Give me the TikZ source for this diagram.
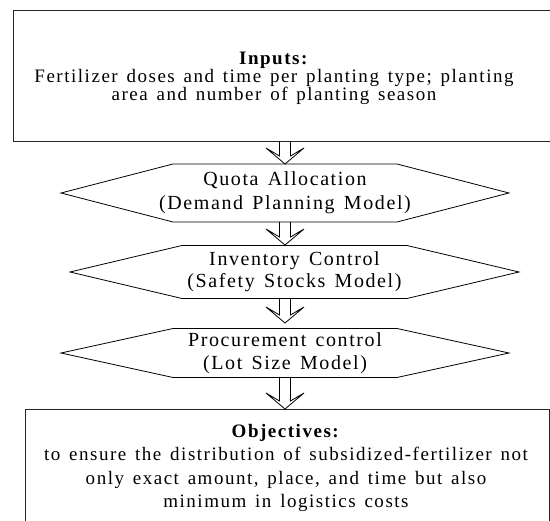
\documentclass[tikz,border=0pt]{standalone}
\usepackage{fontspec}
\setmainfont{Liberation Serif}[LetterSpace=8,WordSpace=1.4]
\usetikzlibrary{calc}
\newcommand\drawhex[4]{%
  \draw[hexline] ($(#1)+(-#2-#4,0)$) -- ($(#1)+(-#2,-#3)$) -- ($(#1)+(#2,-#3)$)
    -- ($(#1)+(#2+#4,0)$) -- ($(#1)+(#2,#3)$) -- ($(#1)+(-#2,#3)$) -- cycle;}
\newcommand\hollowarrow[2]{%
  \draw[arrowline] let \p1=(#1), \p2=(#2) in
    (\x2-5.5pt,\y1) -- (\x2-5.5pt,\y2+8pt) -- (\x2-19pt,\y2+16pt) -- (\x2,\y2)
    -- (\x2+19pt,\y2+16pt) -- (\x2+5.5pt,\y2+8pt) -- (\x2+5.5pt,\y1);}
\begin{document}
\begin{tikzpicture}[x=1pt,y=-1pt,
  boxline/.style={draw=black!85,line width=0.8pt},
  hexline/.style={draw=black,line width=0.8pt},
  arrowline/.style={draw=black,line width=0.8pt,line join=miter},
  txt/.style={align=center,inner sep=0pt,anchor=north}]
\useasboundingbox (0,0) rectangle (550,521);
% top box
\node[boxline,minimum width=538pt,minimum height=131pt,inner sep=0pt] (inputs) at (282,75.5) {};
\node[txt,font=\fontsize{19}{17.8}\selectfont] (inputstext) at (274,52)
  {\textbf{Inputs:}\\Fertilizer doses and time per planting type; planting\\area and number of planting season};
% hexagons
\node[txt,anchor=center,font=\fontsize{20}{24}\selectfont] (hex1) at (285,193)
  {Quota Allocation\\(Demand Planning Model)};
\drawhex{hex1}{112}{29}{112}
\coordinate (hex1top) at (285,164);
\coordinate (hex1bot) at (285,222);
\node[txt,anchor=center,font=\fontsize{20}{22}\selectfont] (hex2) at (294.5,272)
  {Inventory Control\\(Safety Stocks Model)};
\drawhex{hex2}{112.5}{26.5}{112}
\coordinate (hex2top) at (285,245);
\coordinate (hex2bot) at (285,298);
\node[txt,anchor=center,font=\fontsize{20}{22.5}\selectfont] (hex3) at (285,353)
  {Procurement control\\(Lot Size Model)};
\drawhex{hex3}{112}{24.5}{112}
\coordinate (hex3tip) at (285,323);
\coordinate (hex3bot) at (285,377);
% bottom box
\node[boxline,minimum width=524pt,minimum height=131pt,inner sep=0pt] (objectives) at (287,474.5) {};
\coordinate (objtop) at (285,409);
\node[txt,font=\fontsize{19}{23.5}\selectfont] (objtext) at (286,424)
  {\textbf{Objectives:}\\to ensure the distribution of subsidized-fertilizer not\\only exact amount, place, and time but also\\minimum in logistics costs};
% arrows
\hollowarrow{inputs.south -| hex1top}{hex1top}
\hollowarrow{hex1bot}{hex2top}
\hollowarrow{hex2bot}{hex3tip}
\hollowarrow{hex3bot}{objtop}
\end{tikzpicture}
\end{document}
